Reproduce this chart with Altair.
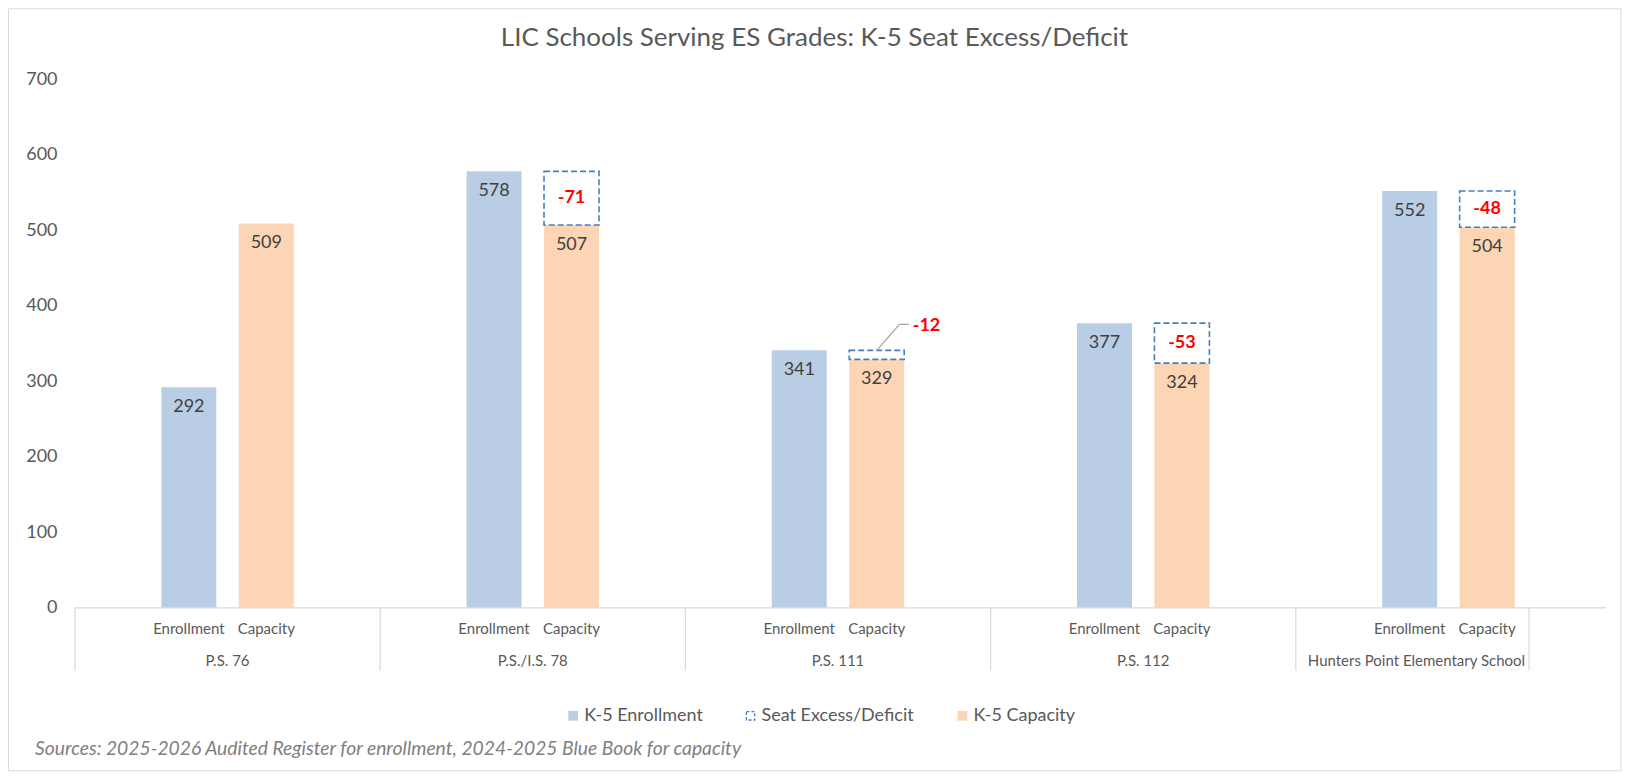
import altair as alt
import pandas as pd

# ---------------- data ----------------
schools = ["P.S. 76", "P.S./I.S. 78", "P.S. 111", "P.S. 112", "Hunters Point Elementary School"]
enrollment = [292, 578, 341, 377, 552]
capacity = [509, 507, 329, 324, 504]
bar_types = ["Enrollment", "Capacity"]
legend_labels = ["K-5 Enrollment", "Seat Excess/Deficit", "K-5 Capacity"]
y_ticks = [0, 100, 200, 300, 400, 500, 600, 700]
title_text = "LIC Schools Serving ES Grades: K-5 Seat Excess/Deficit"
source_text = "Sources: 2025-2026 Audited Register for enrollment, 2024-2025 Blue Book for capacity"

# ---------------- style ----------------
FONT = "Lato"
W, H = 1527, 529
C_ENR = "#b9cde5"
C_CAP = "#fcd5b5"
C_BOX = "#4a7ebb"
C_TXT = "#595959"
C_LINE = "#d9d9d9"

rows = []
for s, e, c in zip(schools, enrollment, capacity):
    rows.append({"school": s, "type": "Enrollment", "value": e})
    rows.append({"school": s, "type": "Capacity", "value": c})
bars_df = pd.DataFrame(rows)

gap_df = pd.DataFrame({"school": schools, "type": "Capacity", "enr": enrollment, "cap": capacity})
gap_df["diff"] = gap_df["cap"] - gap_df["enr"]
gap_df = gap_df[gap_df["diff"] < 0]

schools_df = pd.DataFrame({"school": schools})
one = pd.DataFrame({"k": [0]})

x_scale = alt.Scale(domain=schools, paddingInner=0, paddingOuter=0)
# empty slots on both sides of each pair reproduce the wide spacing between schools
xo_scale = alt.Scale(domain=["_l"] + bar_types + ["_r"], paddingInner=0.29, paddingOuter=0.115)
y_scale = alt.Scale(domain=[0, 700], nice=False, zero=True)

X = alt.X("school:N", scale=x_scale, axis=None)
XO = alt.XOffset("type:N", scale=xo_scale)

y_axis = alt.Axis(values=y_ticks, ticks=False, domain=False, grid=False, labelPadding=18,
                  labelFontSize=18, labelColor=C_TXT, labelFont=FONT, title=None)


def Yq(field):
    return alt.Y(field, type="quantitative", scale=y_scale, axis=y_axis)


border = alt.Chart(one).mark_rect(filled=False, stroke=C_LINE, strokeWidth=1).encode(
    x=alt.value(-66.5), x2=alt.value(1547), y=alt.value(-70.5), y2=alt.value(692))

bars = alt.Chart(bars_df).mark_bar().encode(
    x=X, xOffset=XO, y=Yq("value"),
    color=alt.Color("type:N", scale=alt.Scale(domain=bar_types, range=[C_ENR, C_CAP]), legend=None))

bar_labels = alt.Chart(bars_df).mark_text(dy=20, baseline="middle", font=FONT, fontSize=18,
                                          color="#404040").encode(
    x=X, xOffset=XO, y=Yq("value"), text="value:N")

boxes = alt.Chart(gap_df).mark_bar(filled=False, color=C_BOX, strokeDash=[6, 3], strokeWidth=1.6).encode(
    x=X, xOffset=XO, y=Yq("cap"), y2=alt.Y2("enr"))

gap_in = alt.Chart(gap_df).transform_filter("datum.diff <= -20").transform_calculate(
    mid="(datum.cap + datum.enr) / 2").mark_text(
    font=FONT, fontSize=18, fontWeight="bold", color="#ff0000", baseline="middle").encode(
    x=X, xOffset=XO, y=Yq("mid"), text="diff:N")

gap_out = alt.Chart(gap_df).transform_filter("datum.diff > -20").mark_text(
    font=FONT, fontSize=18, fontWeight="bold", color="#ff0000", baseline="middle", align="left",
    dx=36, dy=-24).encode(x=X, xOffset=XO, y=Yq("enr"), text="diff:N")

leader_diag = alt.Chart(gap_df).transform_filter("datum.diff > -20").mark_rule(
    color="#a6a6a6", strokeWidth=1.3, x2Offset=61.5, y2Offset=-26).encode(
    x=X, xOffset=XO, y=Yq("enr"), x2=alt.X2("school:N"), y2=alt.Y2("enr"))

leader_flat = alt.Chart(gap_df).transform_filter("datum.diff > -20").mark_rule(
    color="#a6a6a6", strokeWidth=1.3, xOffset=61.5, x2Offset=71, yOffset=-26, y2Offset=-26).encode(
    x=X, y=Yq("enr"), x2=alt.X2("school:N"), y2=alt.Y2("enr"))

axis_line = alt.Chart(one).mark_rule(color=C_LINE, strokeWidth=1.2).encode(
    x=alt.value(0), x2=alt.value(1532), y=alt.value(H))

dividers = alt.Chart(schools_df).mark_rule(color=C_LINE, strokeWidth=1.2).encode(
    x=alt.X("school:N", scale=x_scale, axis=None, bandPosition=0),
    y=alt.value(H), y2=alt.value(H + 63))

divider_last = alt.Chart(schools_df).transform_filter(
    alt.datum.school == schools[-1]).mark_rule(color=C_LINE, strokeWidth=1.2, xOffset=-72).encode(
    x=alt.X("school:N", scale=x_scale, axis=None, bandPosition=1),
    y=alt.value(H), y2=alt.value(H + 63))

sub_labels = alt.Chart(bars_df).mark_text(font=FONT, fontSize=15, color=C_TXT, baseline="middle").encode(
    x=X, xOffset=XO, y=alt.value(H + 21), text="type:N")

school_labels = alt.Chart(schools_df).transform_filter(
    alt.datum.school != schools[-1]).mark_text(font=FONT, fontSize=15, color=C_TXT, baseline="middle").encode(
    x=X, y=alt.value(H + 53), text="school:N")

school_last = alt.Chart(schools_df).transform_filter(
    alt.datum.school == schools[-1]).mark_text(font=FONT, fontSize=15, color=C_TXT, baseline="middle",
                                               align="right", dx=-76).encode(
    x=alt.X("school:N", scale=x_scale, axis=None, bandPosition=1), y=alt.value(H + 53), text="school:N")

title = alt.Chart(pd.DataFrame({"t": [title_text]})).mark_text(
    font=FONT, fontSize=26, color=C_TXT, baseline="middle", align="center").encode(
    x=alt.value(740), y=alt.value(-41), text="t:N")

source = alt.Chart(pd.DataFrame({"t": [source_text]})).mark_text(
    font=FONT, fontSize=19.3, fontStyle="italic", color="#7f7f7f", baseline="middle", align="left").encode(
    x=alt.value(-40), y=alt.value(670), text="t:N")

# legend (manual)
LEG_Y = 637
LEG_SYM_X = [498.5, 676, 888]
leg_layers = []
leg_colors = [C_ENR, None, C_CAP]
for lab, sx, col in zip(legend_labels, LEG_SYM_X, leg_colors):
    d = pd.DataFrame({"label": [lab]})
    if col is None:
        sym = alt.Chart(d).mark_square(filled=False, color=C_BOX, strokeDash=[3, 2], strokeWidth=1.3,
                                       size=70, opacity=1).encode(x=alt.value(sx), y=alt.value(LEG_Y))
    else:
        sym = alt.Chart(d).mark_square(filled=True, color=col, size=95, opacity=1).encode(
            x=alt.value(sx), y=alt.value(LEG_Y))
    txt = alt.Chart(d).mark_text(font=FONT, fontSize=18, color=C_TXT, align="left", baseline="middle").encode(
        x=alt.value(sx + 11), y=alt.value(LEG_Y), text="label:N")
    leg_layers += [sym, txt]

chart = alt.layer(
    border, bars, boxes, bar_labels, gap_in, gap_out, leader_diag, leader_flat,
    axis_line, dividers, divider_last, sub_labels, school_labels, school_last,
    title, source, *leg_layers
).properties(
    width=W, height=H,
    autosize=alt.AutoSizeParams(type="none"),
    padding={"left": 67, "top": 71, "right": 22, "bottom": 165},
).configure(font=FONT).configure_view(stroke=None)

chart.save("out.html", embed_options={"renderer": "svg", "actions": False})
